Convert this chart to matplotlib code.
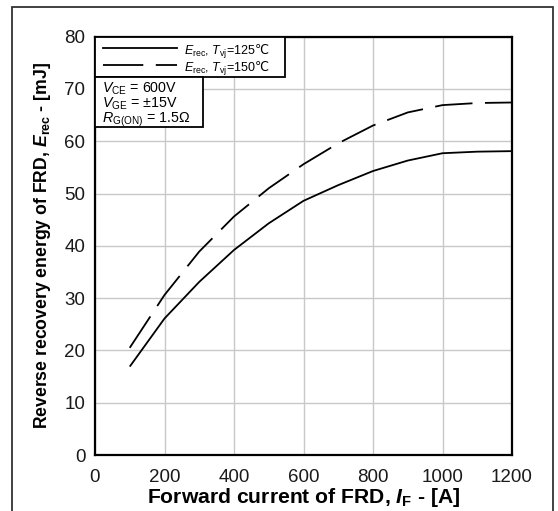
import matplotlib
matplotlib.use("Agg")
import matplotlib.pyplot as plt
from matplotlib.patches import Rectangle
from matplotlib.lines import Line2D

plt.rcParams['font.family'] = ['Liberation Sans', 'DejaVu Sans']
plt.rcParams['mathtext.fontset'] = 'custom'
plt.rcParams['mathtext.rm'] = 'Liberation Sans'
plt.rcParams['mathtext.it'] = 'Liberation Sans:italic'
plt.rcParams['mathtext.bf'] = 'Liberation Sans:bold'
plt.rcParams['mathtext.bfit'] = 'Liberation Sans:bold:italic'
plt.rcParams['mathtext.sf'] = 'DejaVu Sans'
plt.rcParams['lines.scale_dashes'] = False

# Data
current_a = [100, 200, 300, 400, 500, 600, 700, 800, 900, 1000, 1100, 1200]
erec_125 = [16.9, 26.1, 33.1, 39.2, 44.3, 48.6, 51.6, 54.3, 56.3, 57.7, 58.0, 58.1]
erec_150 = [20.5, 30.6, 38.9, 45.6, 51.0, 55.6, 59.6, 63.0, 65.5, 66.9, 67.3, 67.4]
x_ticks = [0, 200, 400, 600, 800, 1000, 1200]
y_ticks = [0, 10, 20, 30, 40, 50, 60, 70, 80]
legend_labels = [r"$E_{\mathrm{rec}}$, $T_{\mathrm{vj}}$=125$\mathsf{℃}$",
                 r"$E_{\mathrm{rec}}$, $T_{\mathrm{vj}}$=150$\mathsf{℃}$"]
cond_text = "$V_{\\mathrm{CE}}$ = 600V\n$V_{\\mathrm{GE}}$ = ±15V\n$R_{\\mathrm{G(ON)}}$ = 1.5Ω"

W, H = 558, 511
fig = plt.figure(figsize=(W / 100, H / 100), dpi=100)
ax_l, ax_r, ax_b, ax_t = 95, 512, 455, 36.6
ax = fig.add_axes([ax_l / W, 1 - ax_b / H, (ax_r - ax_l) / W, (ax_b - ax_t) / H])

def ax_x(px):
    return (px - ax_l) / (ax_r - ax_l)

def ax_y(py):
    return (ax_b - py) / (ax_b - ax_t)

ax.plot(current_a, erec_125, color='black', lw=1.3, solid_capstyle='butt')
ax.plot(current_a, erec_150, color='black', lw=1.3, dashes=(27, 9), dash_capstyle='butt')

ax.set_xlim(0, 1200)
ax.set_ylim(0, 80)
ax.set_xticks(x_ticks)
ax.set_yticks(y_ticks)
ax.grid(True, color='#c8c8c8', lw=1.0)
ax.set_axisbelow(True)
ax.tick_params(length=0, labelsize=13.5, colors='#1a1a1a')
ax.tick_params(axis='x', pad=10)
ax.tick_params(axis='y', pad=7)
for s in ax.spines.values():
    s.set_linewidth(1.6)
    s.set_color('black')

ax.set_xlabel(r"Forward current of FRD, $\mathbfit{I}_{\mathbf{F}}$ - [A]",
              fontsize=15.2, fontweight='bold', labelpad=0)
ax.set_ylabel(r"Reverse recovery energy of FRD, $\mathbfit{E}_{\mathbf{rec}}$ - [mJ]",
              fontsize=12.7, fontweight='bold', labelpad=8)

# legend box (drawn manually to match the reference geometry)
T = ax.transAxes
ax.add_patch(Rectangle((0, ax_y(76.7)), ax_x(285), 1 - ax_y(76.7), transform=T,
                       fc='white', ec='black', lw=1.3, zorder=5))
leg_styles = [dict(), dict(dashes=(29, 9), dash_capstyle='butt')]
for label, row_y, style in zip(legend_labels, [48.5, 65.5], leg_styles):
    ax.add_line(Line2D([ax_x(103), ax_x(177)], [ax_y(row_y), ax_y(row_y)], transform=T,
                       color='black', lw=1.3, zorder=6, **style))
    ax.text(ax_x(184), ax_y(row_y), label, transform=T, ha='left', va='center_baseline',
            fontsize=9.0, zorder=6)

# condition box below the legend
ax.add_patch(Rectangle((0, ax_y(127)), ax_x(203), ax_y(76.7) - ax_y(127),
                       transform=T, fc='white', ec='black', lw=1.3, zorder=5))
ax.text(ax_x(102), ax_y(81), cond_text, transform=T, ha='left', va='top',
        fontsize=10.3, linespacing=0.88, zorder=6)

# outer frame
fig.patches.append(Rectangle((12 / W, -0.1), (553 - 12) / W, 1.1 - 7 / H,
                             transform=fig.transFigure, fill=False,
                             ec='#333333', lw=1.3, clip_on=False))

fig.savefig("out.png", dpi=100)
